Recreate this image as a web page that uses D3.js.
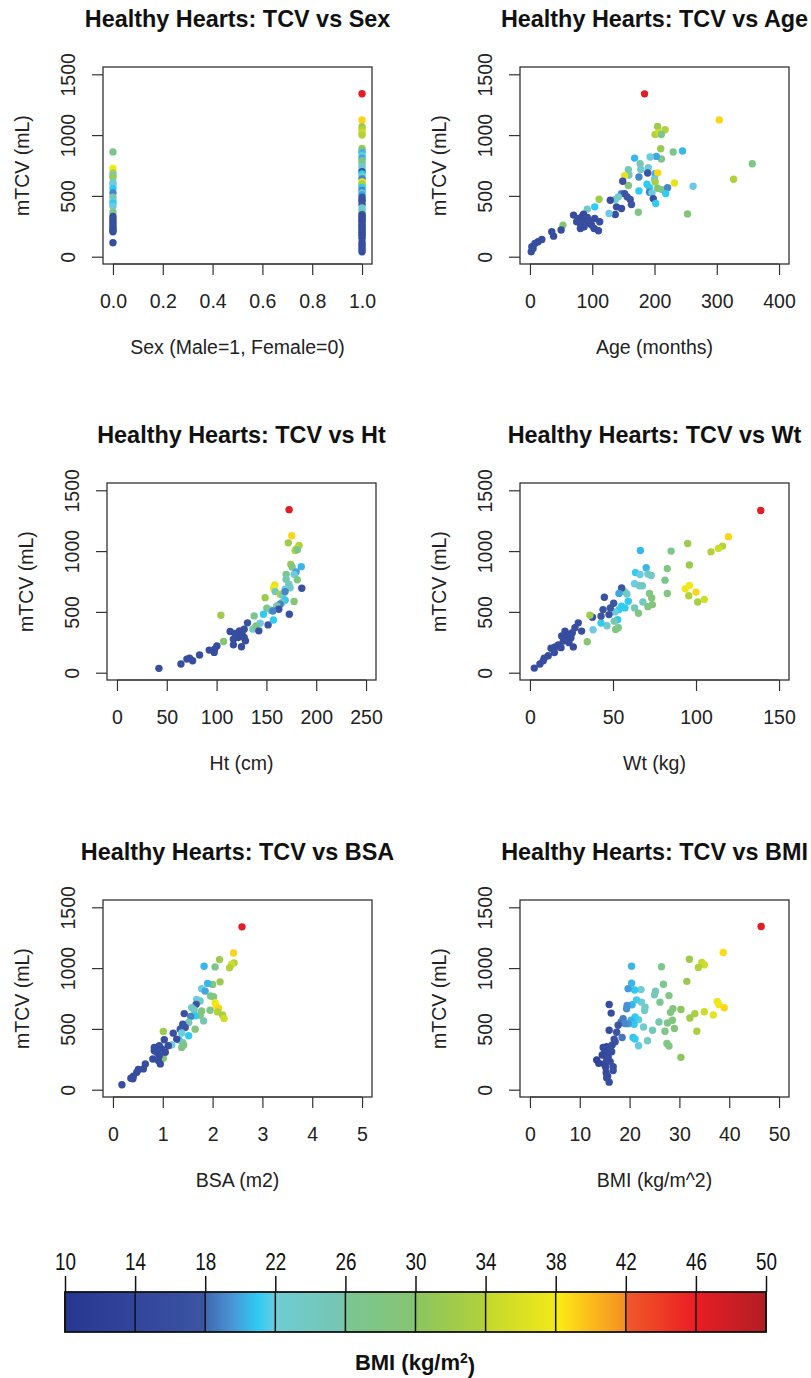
<!DOCTYPE html>
<html>
<head>
<meta charset="utf-8">
<script src="https://cdn.jsdelivr.net/npm/d3@7"></script>
<style>
  body { margin: 0; background: #fff; }
  svg { display: block; font-family: "Liberation Sans", Arial, sans-serif; }
</style>
</head>
<body>
<div id="chart"></div>
<script>
// ---- data: [x value, mTCV (mL), BMI] ----
var sexPts = [
  [0,862,27],[0,725,38],[0,690,34],[0,670,24],[0,650,32],[0,610,22],[0,590,22],[0,560,21],
  [0,525,19],[0,490,26],[0,460,23],[0,440,21],[0,415,22],[0,365,28],[0,330,16],[0,310,17],
  [0,290,16],[0,270,16],[0,250,17],[0,230,16],[0,215,16],[0,205,16],[0,115,16],
  [1,1340,46.5],[1,1125,39],[1,1070,32],[1,1045,34],[1,1020,35],[1,1000,34],[1,890,31.5],
  [1,870,28],[1,855,20.5],[1,830,22],[1,810,20],[1,790,27],[1,765,28],[1,740,22],[1,720,24],
  [1,700,17],[1,680,21],[1,660,23],[1,640,19],[1,615,38],[1,600,34],[1,585,33],[1,570,21],
  [1,545,19],[1,525,22],[1,510,20],[1,490,18],[1,470,18],[1,455,17],[1,430,18],[1,400,24],
  [1,380,22],[1,355,28],[1,345,16],[1,330,16],[1,315,16],[1,300,16],[1,285,16],[1,265,16],
  [1,250,16],[1,235,16],[1,215,16],[1,200,16],[1,185,16],[1,170,16],[1,150,16],[1,120,16],
  [1,100,16],[1,80,16],[1,60,16],[1,40,16]
];

var agePts = [
  [184,1339,46.5],[304,1125,39],[357,765,28],[327,637,34],[232,606,37],[253,352,29],[262,579,22],
  [245,869,20.5],[230,861,27],[205,1071,32],[217,1044,34],[201,1005,34],[207,1022,35],[211,1005,27],
  [210,888,31.5],[211,803,27],[203,825,20],[193,820,22],[168,811,20.5],[177,765,26],[178,718,23],
  [158,716,26],[159,672,25],[152,667,37],[190,732,22],[189,688,18],[201,683,20],[205,688,39],
  [200,639,22],[201,615,33],[158,585,29],[175,656,19],[149,620,17],[188,596,21],[175,541,21],
  [205,563,30],[212,552,28],[221,568,19],[218,519,21],[192,568,21],[192,530,19],[196,525,22],
  [198,478,17],[202,437,21],[174,366,28],[147,519,19],[152,519,18],[156,492,18],[161,470,18],
  [163,429,18],[142,492,23],[137,470,23],[129,464,16],[139,410,16],[147,396,16],[137,347,16],
  [127,355,22],[111,473,32],[104,410,21],[92,391,24],[53,260,30],
  [70,342,16],[78,314,16],[86,350,16],[89,306,16],[81,273,16],[81,232,16],[94,279,16],[99,260,16],
  [103,232,16],[110,213,16],[112,287,16],[104,314,16],[87,246,16],[75,287,16],[84,330,15],
  [92,322,16],[97,295,16],[50,219,16],[35,205,16],[38,169,16],[19,142,16],[13,123,16],[8,109,16],
  [3,82,16],[2,41,16],[5,68,16]
];

var htPts = [
  [172.8,1341,46.5],[175.5,1126,39],[172,1068,32],[182.8,1046,34],[180.5,1022,35],[178.8,1005,34],
  [181,1011,27],[174.5,891,31.5],[175.8,869,28],[185,872,20.5],[179.8,828,20],[177.8,809,22],
  [169.8,809,27],[181,765,28],[169.8,768,26],[185.5,694,17],[158.4,721,37],[172.5,727,24],
  [173.8,699,24],[168.8,686,22],[157.1,694,38],[158.8,667,25],[163.8,645,34],[166.4,637,25],
  [168.8,667,19],[148.7,617,32],[168.8,596,21],[177.8,585,30],[165.4,576,26],[163.8,563,19],
  [160.4,549,26],[150.4,530,28],[154.4,514,24],[162.4,522,18],[156.4,508,19],[147,481,21],
  [173,481,17],[151.7,393,18],[157,434,21],[143.7,407,22],[137.7,467,27],[136.4,358,23],
  [139.4,385,28],[142.4,344,17],[131,410,17],[104.3,473,32],[107,257,30],
  [113.6,339,16],[118.6,322,16],[123,344,16],[127.7,358,16],[121.6,290,16],[125.7,311,16],
  [116.9,276,16],[116.9,229,16],[129,262,16],[125,213,16],[127.7,290,16],[100.3,219,16],
  [98,194,16],[97.6,167,16],[92.6,186,16],[82.9,145,16],[72.9,120,16],[75.9,98,16],
  [70.2,112,16],[64.2,71,16],[42.1,36,16]
];

var wtPts = [
  [139,1334,46.5],[119.5,1119,39],[116,1041,34],[113.5,1022,35],[109,994,34],[95,1062,32],
  [96,886,31.5],[93.5,690,38],[96,717,38],[100,663,39],[95.6,633,34],[101,581,33],[105,603,35],
  [85,1000,27],[82.7,856,28],[81.3,761,27],[82.7,652,28],[66.5,1005,20.5],[70,864,20.5],
  [63.6,823,21],[66.3,807,22],[71,812,23],[73,799,24],[63,731,22],[66,715,24],[67.7,715,24],
  [72,652,28],[73.3,614,29],[68,581,24],[71,543,28],[73.7,560,29],[63,533,25],[65.3,489,28],
  [59.2,587,21],[58.4,647,23],[56.8,668,24],[55.2,696,18],[53.6,652,20],[55.2,546,21],
  [57.2,533,21],[53.6,519,21],[51.2,500,22],[52.8,435,21],[51.6,356,28],[53.2,370,28],
  [50.8,424,26],[46.4,386,24],[42.8,408,21],[44.8,620,17],[50.4,571,18],[48.4,533,18],
  [44,519,17],[47.6,478,17],[42.8,465,18],[37.6,457,16],[36.1,473,32],[38,353,22],[34.5,255,30],
  [29.1,410,16],[31.1,342,16],[27.1,370,16],[25.5,329,16],[21.1,342,16],[23.1,315,16],
  [24.7,288,16],[22.1,283,16],[19.1,302,16],[23.5,247,16],[26.1,212,16],[20.1,261,16],
  [17.1,228,16],[15.1,212,16],[12.7,201,16],[14.7,166,16],[11,139,16],[8.6,120,16],[8,98,16],
  [6,71,16],[2.6,38,16],[18.7,206,16]
];

var bsaPts = [
  [2.59,1339,46.5],[2.42,1124,39],[2.14,1070,32],[2.43,1043,34],[2.38,1029,35],[2.34,1002,34],
  [2.05,1010,27],[1.83,1015,20.5],[2.15,887,31.5],[2.0,866,28],[1.9,874,20.5],[1.78,830,22],
  [1.85,811,20],[1.96,770,27],[2.02,765,28],[2.05,716,38],[2.07,689,38],[2.12,670,39],
  [2.1,640,34],[2.2,615,33],[2.23,585,35],[1.95,653,28],[1.75,730,24],[1.68,743,22],
  [1.67,702,18],[1.58,675,23],[1.63,656,24],[1.78,648,28],[1.75,612,29],[1.82,566,26],
  [1.65,607,21],[1.56,602,19],[1.65,498,29],[1.52,553,25],[1.43,626,17],[1.4,539,18],
  [1.45,512,18],[1.35,498,18],[1.52,444,21],[1.38,466,22],[1.32,411,21],[1.4,389,24],
  [1.42,367,28],[1.38,348,28],[1.21,465,17],[1.28,416,16],[1.18,367,22],[1.11,362,16],
  [1.01,479,32],[1.01,259,30],
  [1.03,411,16],[0.93,362,16],[0.83,348,16],[0.83,321,16],[0.88,308,16],[0.98,335,16],
  [0.93,280,16],[0.8,253,16],[0.95,212,16],[0.91,240,16],[1.05,308,16],[0.65,212,16],
  [0.61,171,16],[0.51,166,16],[0.48,144,16],[0.41,112,16],[0.36,95,16],[0.4,90,16],[0.18,41,16]
];

// BMI panel: x is the BMI itself
var bmiPts = [
  [46.4,1342],[38.8,1128],[32,1073],[34.5,1046],[35,1027],[33.8,1005],[31.5,891],[26.4,1011],
  [26.8,867],[25.2,810],[25,780],[27.9,774],[26.1,720],[37.6,725],[37.9,701],[39,674],[36.8,614],
  [35,641],[33.1,625],[32.1,590],[33.5,481],[30.3,660],[28.7,666],[28.2,636],[28.6,571],
  [27.6,549],[25.9,557],[29,503],[27.1,481],[24.6,489],[27.5,380],[27.9,359],[30.3,266],
  [23.6,402],[21.8,361],[22.8,516],[21.8,576],[21.1,598],[20.3,571],[20.9,538],[19.7,543],
  [20.7,429],[21.1,416],[23.1,679],[23,652],[22.4,720],[21.4,739],[20.5,698],[19.5,693],
  [19.4,666],[22.3,823],[21,820],[19.7,831],[20.4,875],[20.4,1016],[15.9,701],[16.3,630],
  [15.9,489],[17.4,473],[16.9,416],[18.5,429],[18.3,557],[18.7,584],[19.1,543],[17.7,530],
  [17.1,394],[16.5,367],[14.7,348],[15.4,353],[16.1,340],[15.1,312],[16.4,312],[14.5,285],
  [15.7,272],[15.4,245],[14.9,212],[16.1,231],[13.4,245],[13.8,217],[16.7,190],[16.7,158],
  [15.2,185],[15.3,139],[15.6,112],[15.9,62],[15.4,98]
];

// colour bar: BMI stops and colours (segments are separate gradients)
var bmiStops = [10, 14, 18, 18.01, 19.5, 21, 22, 22.01, 26, 26.01, 30, 30.01, 34, 34.01,
                38, 38.01, 40, 42, 42.01, 46, 46.01, 50];
var bmiColours = ["#263790", "#32459b", "#3b55a3", "#3f68b0", "#4a93d3", "#2ecbf3", "#6ccbe0",
                  "#6fccd3", "#76c6b0", "#7ac793", "#87c473", "#8bc561", "#b2d13a", "#c3d82e",
                  "#f2e818", "#fcee16", "#fbbc1b", "#f58d21", "#ef5b28", "#ec1c24", "#e81d25",
                  "#b11e23"];
var barTicks = [10, 14, 18, 22, 26, 30, 34, 38, 42, 46, 50];

var yTicks = [0, 500, 1000, 1500];

var width = 811, height = 1378;

var colour = d3.scaleLinear()
               .domain(bmiStops)
               .range(bmiColours)
               .clamp(true);

var svg = d3.select("#chart").append("svg")
            .attr("width", width)
            .attr("height", height);

svg.append("rect")
   .attr("width", width)
   .attr("height", height)
   .attr("fill", "#fff");

var panels = [
  {title: "Healthy Hearts: TCV vs Sex", xlab: "Sex (Male=1, Female=0)", data: sexPts,
   xlim: [0, 1], xticks: [0, 0.2, 0.4, 0.6, 0.8, 1], fmt: d3.format(".1f"), left: 103, top: 67},
  {title: "Healthy Hearts: TCV vs Age", xlab: "Age (months)", data: agePts,
   xlim: [0, 400], xticks: [0, 100, 200, 300, 400], fmt: d3.format("d"), left: 520, top: 67},
  {title: "Healthy Hearts: TCV vs Ht", xlab: "Ht (cm)", data: htPts,
   xlim: [0, 250], xticks: [0, 50, 100, 150, 200, 250], fmt: d3.format("d"), left: 107, top: 483},
  {title: "Healthy Hearts: TCV vs Wt", xlab: "Wt (kg)", data: wtPts,
   xlim: [0, 150], xticks: [0, 50, 100, 150], fmt: d3.format("d"), left: 520, top: 483},
  {title: "Healthy Hearts: TCV vs BSA", xlab: "BSA (m2)", data: bsaPts,
   xlim: [0, 5], xticks: [0, 1, 2, 3, 4, 5], fmt: d3.format("d"), left: 103, top: 900},
  {title: "Healthy Hearts: TCV vs BMI", xlab: "BMI (kg/m^2)", data: bmiPts,
   xlim: [0, 50], xticks: [0, 10, 20, 30, 40, 50], fmt: d3.format("d"), left: 520, top: 900}
];

var pw = 269, ph = 197,
    fs = 19.5;   // base font size

panels.forEach(function(p) {
  var g = svg.append("g")
             .attr("transform", "translate(" + p.left + "," + p.top + ")");

  // R style 4% extension of the limits
  var xs = p.xlim[1] - p.xlim[0];
  var xScale = d3.scaleLinear()
                 .domain([p.xlim[0] - 0.04 * xs, p.xlim[1] + 0.04 * xs])
                 .range([0, pw]);
  var yScale = d3.scaleLinear()
                 .domain([-60, 1560])
                 .range([ph, 0]);

  // points
  g.selectAll("circle")
   .data(p.data)
   .enter()
   .append("circle")
   .attr("cx", function(d) { return xScale(d[0]); })
   .attr("cy", function(d) { return yScale(d[1]); })
   .attr("r", 3.7)
   .attr("fill", function(d) {
     return colour(d.length > 2 ? d[2] : d[0]);
   });

  // x axis
  var xaxis = d3.axisBottom(xScale)
                .tickValues(p.xticks)
                .tickFormat(p.fmt)
                .tickSizeOuter(0)
                .tickSize(11);
  var gx = g.append("g")
            .attr("transform", "translate(0," + ph + ")")
            .call(xaxis);
  gx.select(".domain").remove();
  gx.append("line")
    .attr("x1", xScale(p.xticks[0]))
    .attr("x2", xScale(p.xticks[p.xticks.length - 1]))
    .attr("stroke", "#333");
  gx.selectAll(".tick line").attr("stroke", "#333").attr("stroke-width", 1.2);
  gx.selectAll("text")
    .attr("y", 37)
    .attr("dy", "0.35em")
    .attr("fill", "#222")
    .style("font-size", fs + "px")
    .style("font-family", "Liberation Sans, Arial, sans-serif");

  // y axis with labels parallel to the axis
  var yaxis = d3.axisLeft(yScale)
                .tickValues(yTicks)
                .tickFormat(d3.format("d"))
                .tickSizeOuter(0)
                .tickSize(11);
  var gy = g.append("g").call(yaxis);
  gy.select(".domain").remove();
  gy.selectAll(".tick line").attr("stroke", "#333").attr("stroke-width", 1.2);
  gy.selectAll("text")
    .attr("transform", "rotate(-90)")
    .attr("x", 0)
    .attr("y", -35)
    .attr("dy", "0.35em")
    .attr("fill", "#222")
    .style("text-anchor", "middle")
    .style("font-size", fs + "px")
    .style("font-family", "Liberation Sans, Arial, sans-serif");

  // box
  g.append("rect")
   .attr("width", pw)
   .attr("height", ph)
   .attr("fill", "none")
   .attr("stroke", "#333")
   .attr("stroke-width", 1.3);

  // titles
  g.append("text")
   .attr("x", pw / 2)
   .attr("y", -48.5)
   .attr("dy", "0.35em")
   .attr("text-anchor", "middle")
   .style("font-weight", "bold")
   .style("font-size", (fs * 1.2) + "px")
   .attr("fill", "#111")
   .text(p.title);

  g.append("text")
   .attr("x", pw / 2)
   .attr("y", ph + 83)
   .attr("dy", "0.35em")
   .attr("text-anchor", "middle")
   .style("font-size", fs + "px")
   .attr("fill", "#222")
   .text(p.xlab);

  g.append("text")
   .attr("transform", "translate(" + (-81) + "," + (ph / 2) + ") rotate(-90)")
   .attr("dy", "0.35em")
   .attr("text-anchor", "middle")
   .style("font-size", fs + "px")
   .attr("fill", "#222")
   .text("mTCV (mL)");
});

// ---- colour bar ----
var barTop = 1292, barH = 40;
var cbX = d3.scaleLinear().domain([10, 50]).range([65, 766]);

var grad = svg.append("defs")
              .append("linearGradient")
              .attr("id", "bmigrad")
              .attr("x1", "0%").attr("x2", "100%")
              .attr("y1", "0%").attr("y2", "0%");
grad.selectAll("stop")
    .data(bmiStops)
    .enter()
    .append("stop")
    .attr("offset", function(d) { return ((d - 10) / 40 * 100) + "%"; })
    .attr("stop-color", function(d, i) { return bmiColours[i]; });

svg.append("rect")
   .attr("x", cbX(10))
   .attr("y", barTop)
   .attr("width", cbX(50) - cbX(10))
   .attr("height", barH)
   .attr("fill", "url(#bmigrad)");

svg.selectAll(".seg")
   .data(barTicks)
   .enter()
   .append("line")
   .attr("class", "seg")
   .attr("x1", function(d) { return cbX(d); })
   .attr("x2", function(d) { return cbX(d); })
   .attr("y1", barTop)
   .attr("y2", barTop + barH)
   .attr("stroke", "#111")
   .attr("stroke-width", 1.5);

svg.append("rect")
   .attr("x", cbX(10))
   .attr("y", barTop)
   .attr("width", cbX(50) - cbX(10))
   .attr("height", barH)
   .attr("fill", "none")
   .attr("stroke", "#111")
   .attr("stroke-width", 1.8);

var cbaxis = d3.axisTop(cbX)
               .tickValues(barTicks)
               .tickSize(16)
               .tickSizeOuter(0);
var gcb = svg.append("g")
             .attr("transform", "translate(0," + barTop + ")")
             .call(cbaxis);
gcb.select(".domain").remove();
gcb.selectAll(".tick line").attr("stroke", "#111").attr("stroke-width", 1.5);
// condensed look: squeeze the labels horizontally around their centre
gcb.selectAll("text")
   .attr("y", -30)
   .attr("dy", "0.35em")
   .attr("transform", "scale(0.82,1)")
   .attr("fill", "#111")
   .style("font-size", "23px")
   .style("font-family", "'Liberation Sans', Arial, sans-serif");

var lab = svg.append("text")
             .attr("x", 415)
             .attr("y", 1362)
             .attr("dy", "0.35em")
             .attr("text-anchor", "middle")
             .style("font-family", "'Liberation Sans', Arial, sans-serif")
             .style("font-weight", "bold")
             .style("font-size", "22px")
             .attr("fill", "#111");
lab.append("tspan").text("BMI (kg/m");
lab.append("tspan").attr("dy", "-0.45em").style("font-size", "14px").text("2");
lab.append("tspan").attr("dy", "0.45em").text(")");
</script>
</body>
</html>
